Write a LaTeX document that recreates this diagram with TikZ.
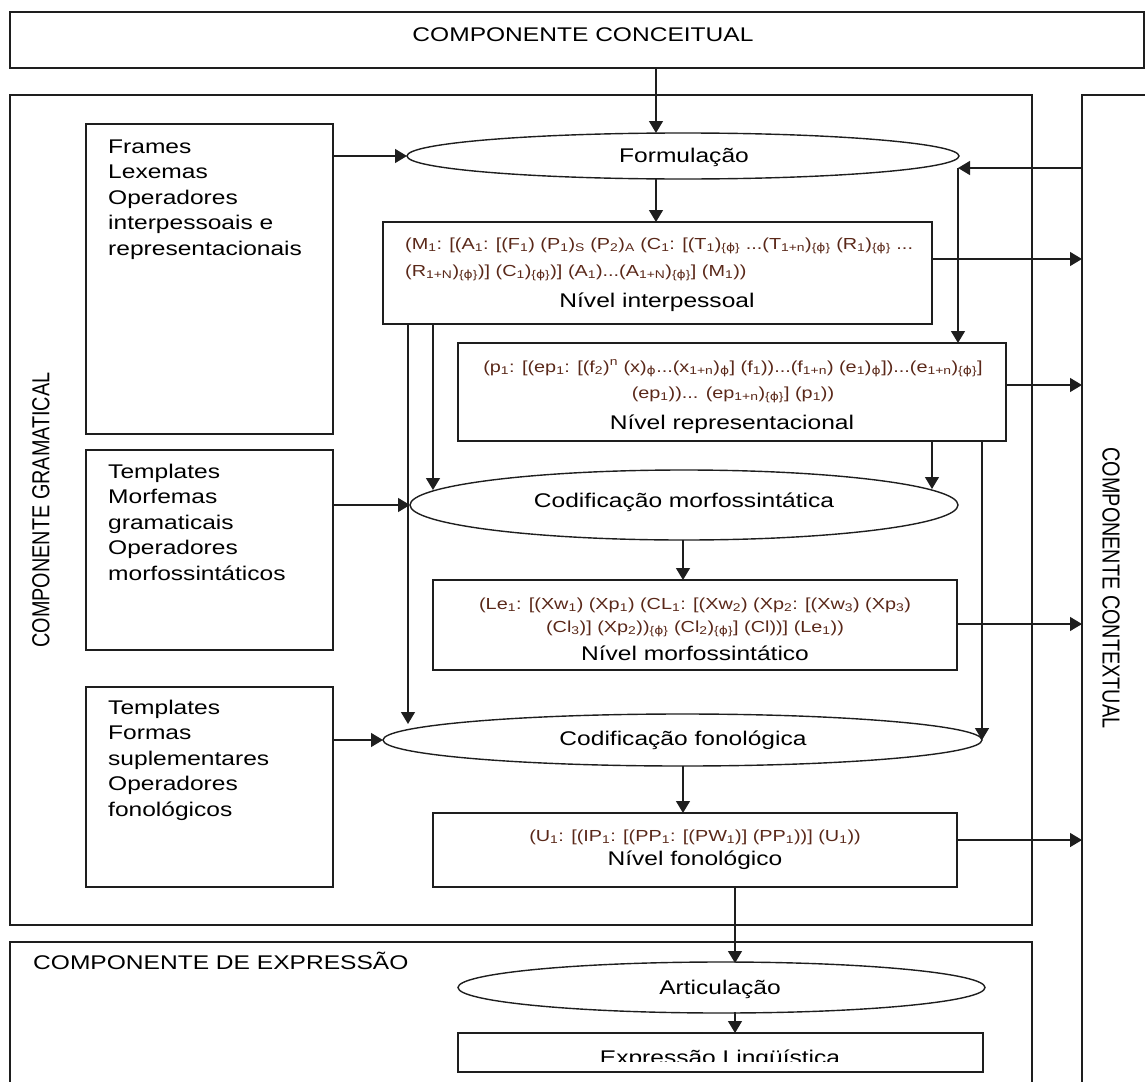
\documentclass[tikz,border=0pt]{standalone}
\usepackage{fontspec}
\setmainfont{Liberation Sans}[FakeStretch=1.24]
\newfontfamily\rotfont{Liberation Sans}[FakeStretch=0.806]
\newfontfamily\phifont{DejaVu Sans}[FakeStretch=1.24]
\usetikzlibrary{shapes.geometric,arrows.meta}
\definecolor{formcol}{RGB}{90,40,25}
\definecolor{linecol}{RGB}{30,30,30}
\newcommand\sbs[1]{\textsubscript{#1}}
\newcommand\sps[1]{\textsuperscript{#1}}
\newcommand\fph{{\phifont ϕ}}
\newcommand\bph{\textsubscript{\{\fph\}}}
\newcommand\mainsz{\fontsize{19.8}{25.5}\selectfont}
\newcommand\fmlsz{\fontsize{16.0}{20}\selectfont}
\begin{document}
\begin{tikzpicture}[x=1pt,y=-1pt,
  box/.style={draw=linecol, line width=1.4pt, inner sep=0pt, outer sep=0pt, rectangle},
  ell/.style={draw=linecol, line width=1.4pt, inner sep=0pt, outer sep=0pt, ellipse},
  lbl/.style={font=\mainsz, anchor=base, inner sep=0pt},
  lbll/.style={font=\mainsz, anchor=base west, inner sep=0pt},
  fml/.style={font=\fmlsz, text=formcol, anchor=base, inner sep=0pt},
  arr/.style={draw=linecol, line width=1.4pt, -{Triangle[length=12pt,width=14pt]}},
  ln/.style={draw=linecol, line width=1.4pt}]
\clip (0,0) rectangle (1145,1081);
% big frames
\node[box, minimum width=1134, minimum height=56] (concept) at (577,40) {};
\node[lbl] (conceptlbl) at (583,42) {COMPONENTE CONCEITUAL};
\node[box, minimum width=1022, minimum height=830] (gram) at (521,510) {};
\node[rotate=90, font=\rotfont\fontsize{24.6}{26}\selectfont, inner sep=0pt] (gramlbl) at (41,510) {COMPONENTE GRAMATICAL};
\node[box, minimum width=90, minimum height=1010] (ctx) at (1127,600) {};
\node[rotate=-90, font=\rotfont\fontsize{24.6}{26}\selectfont, inner sep=0pt] (ctxlbl) at (1111,588) {COMPONENTE CONTEXTUAL};
\node[box, minimum width=1022, minimum height=170] (expr) at (521,1027) {};
\node[lbll] (exprlbl) at (33,969) {COMPONENTE DE EXPRESSÃO};
% left boxes
\node[box, minimum width=247, minimum height=310] (box1) at (209.5,279) {};
\node[lbll] (b1a) at (108,153) {Frames};
\node[lbll] (b1b) at (108,178.5) {Lexemas};
\node[lbll] (b1c) at (108,204) {Operadores};
\node[lbll] (b1d) at (108,229.5) {interpessoais e};
\node[lbll] (b1e) at (108,255) {representacionais};
\node[box, minimum width=247, minimum height=200] (box2) at (209.5,550) {};
\node[lbll] (b2a) at (108,478) {Templates};
\node[lbll] (b2b) at (108,503.5) {Morfemas};
\node[lbll] (b2c) at (108,529) {gramaticais};
\node[lbll] (b2d) at (108,554.5) {Operadores};
\node[lbll] (b2e) at (108,580) {morfossintáticos};
\node[box, minimum width=247, minimum height=200] (box3) at (209.5,787) {};
\node[lbll] (b3a) at (108,714) {Templates};
\node[lbll] (b3b) at (108,739.5) {Formas};
\node[lbll] (b3c) at (108,765) {suplementares};
\node[lbll] (b3d) at (108,790.5) {Operadores};
\node[lbll] (b3e) at (108,816) {fonológicos};
% central column
\node[ell, minimum width=552, minimum height=46] (formul) at (683,156) {};
\node[lbl] (formullbl) at (684,162) {Formulação};
\node[box, minimum width=549, minimum height=102] (inter) at (657.5,273) {};
\node[fml, anchor=base west] (int1) at (405,249) {(M\sbs{1}: [(A\sbs{1}: [(F\sbs{1}) (P\sbs{1})\sbs{S} (P\sbs{2})\sbs{A} (C\sbs{1}: [(T\sbs{1})\bph{} ...(T\sbs{1+n})\bph{} (R\sbs{1})\bph{} ...};
\node[fml, anchor=base west] (int2) at (405,276) {(R\sbs{1+N})\bph)] (C\sbs{1})\bph)] (A\sbs{1})...(A\sbs{1+N})\bph] (M\sbs{1}))};
\node[lbl] (intlbl) at (657,307) {Nível interpessoal};
\node[box, minimum width=548, minimum height=98] (rep) at (732,392) {};
\node[fml] (rep1) at (733,372) {(p\sbs{1}: [(ep\sbs{1}: [(f\sbs{2})\sps{n} (x)\sbs{\fph}...(x\sbs{1+n})\sbs{\fph}] (f\sbs{1}))...(f\sbs{1+n}) (e\sbs{1})\sbs{\fph}])...(e\sbs{1+n})\bph]};
\node[fml] (rep2) at (733,398) {(ep\sbs{1}))... (ep\sbs{1+n})\bph] (p\sbs{1}))};
\node[lbl] (replbl) at (732,429) {Nível representacional};
\node[ell, minimum width=548, minimum height=70] (codm) at (684,505) {};
\node[lbl] (codmlbl) at (684,507) {Codificação morfossintática};
\node[box, minimum width=524, minimum height=90] (morf) at (695,625) {};
\node[fml] (morf1) at (695,609) {(Le\sbs{1}: [(Xw\sbs{1}) (Xp\sbs{1}) (CL\sbs{1}: [(Xw\sbs{2}) (Xp\sbs{2}: [(Xw\sbs{3}) (Xp\sbs{3})};
\node[fml] (morf2) at (695,632) {(Cl\sbs{3})] (Xp\sbs{2}))\bph{} (Cl\sbs{2})\bph] (Cl))] (Le\sbs{1}))};
\node[lbl] (morflbl) at (695,660) {Nível morfossintático};
\node[ell, minimum width=599, minimum height=52] (codf) at (682.5,740) {};
\node[lbl] (codflbl) at (683,745) {Codificação fonológica};
\node[box, minimum width=524, minimum height=74] (fon) at (695,850) {};
\node[fml] (fon1) at (695,841) {(U\sbs{1}: [(IP\sbs{1}: [(PP\sbs{1}: [(PW\sbs{1})] (PP\sbs{1}))] (U\sbs{1}))};
\node[lbl] (fonlbl) at (695,865) {Nível fonológico};
\node[ell, minimum width=527, minimum height=51] (artic) at (721.5,987.5) {};
\node[lbl] (articlbl) at (720,994) {Articulação};
\node[box, minimum width=525, minimum height=39] (exprl) at (720.5,1052.5) {};
\begin{scope}
\clip (458,1033) rectangle (983,1061);
\node[lbl] (exprllbl) at (720,1064) {Expressão Lingüística};
\end{scope}
% helper coordinates on ellipse borders
\coordinate (fR) at (958,168);
\coordinate (cmL) at (433,490);
\coordinate (cmR) at (932,489);
\coordinate (cfL) at (408,724);
\coordinate (cfR) at (982,740);
% connectors
\draw[arr] (656,0 |- concept.south) -- (656,0 |- formul.north);
\draw[arr] (box1.east |- formul.west) -- (formul.west);
\draw[arr] (ctx.west |- fR) -- (fR);
\draw[arr] (fR) -- (fR |- rep.north);
\draw[arr] (656,0 |- formul.south) -- (656,0 |- inter.north);
\draw[arr] (inter.east |- 0,259) -- (ctx.west |- 0,259);
\draw[arr] (rep.east |- 0,385) -- (ctx.west |- 0,385);
\draw[arr] (cmL |- inter.south) -- (cmL);
\draw[arr] (cfL |- inter.south) -- (cfL);
\draw[arr] (cmR |- rep.south) -- (cmR);
\draw[arr] (cfR |- rep.south) -- (cfR);
\draw[arr] (box2.east |- codm.west) -- (codm.west);
\draw[arr] (683,0 |- codm.south) -- (683,0 |- morf.north);
\draw[arr] (morf.east |- 0,624) -- (ctx.west |- 0,624);
\draw[arr] (box3.east |- codf.west) -- (codf.west);
\draw[arr] (683,0 |- codf.south) -- (683,0 |- fon.north);
\draw[arr] (fon.east |- 0,840) -- (ctx.west |- 0,840);
\draw[arr] (735,0 |- fon.south) -- (735,963);
\draw[arr] (735,1012) -- (735,0 |- exprl.north);
\end{tikzpicture}
\end{document}
